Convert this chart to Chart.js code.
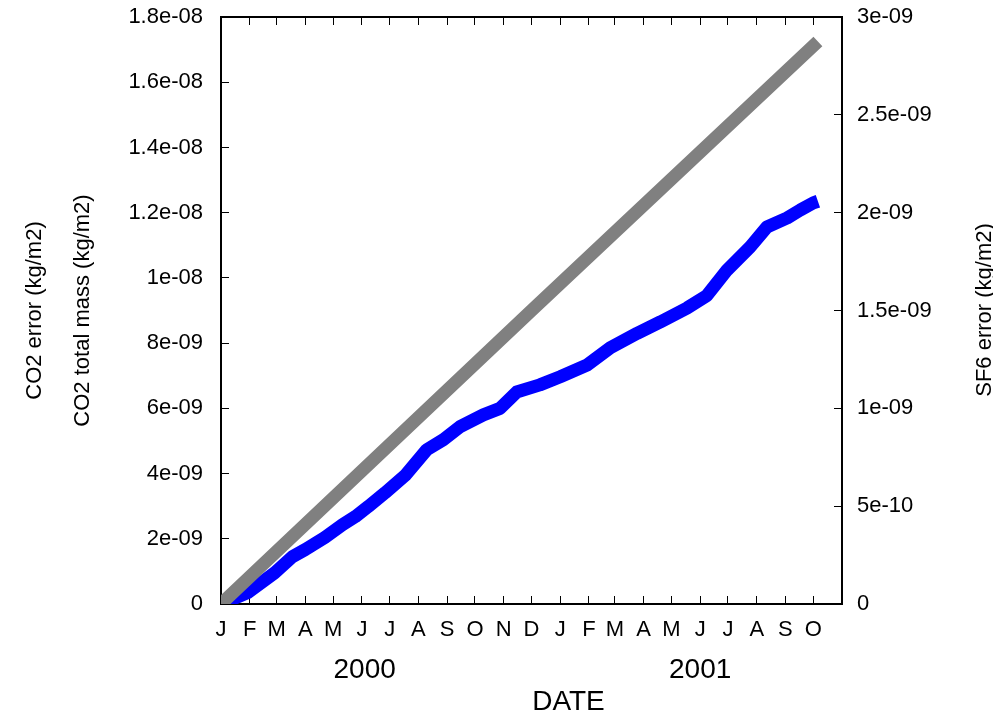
<!DOCTYPE html>
<html>
<head>
<meta charset="utf-8">
<script src="https://cdn.jsdelivr.net/npm/chart.js@4"></script>
<style>
  body { margin: 0; background: #fff; }
</style>
</head>
<body>
<canvas id="chart" width="993" height="716"></canvas>
<script>
// x values are days since 1 Jan 2000
const monthDays = [0, 31, 60, 91, 121, 152, 182, 213, 244, 274, 305, 335,
                   366, 397, 425, 456, 486, 517, 547, 578, 609, 639];
const monthLabels = ["J", "F", "M", "A", "M", "J", "J", "A", "S", "O", "N", "D",
                     "J", "F", "M", "A", "M", "J", "J", "A", "S", "O"];
const yearDays = [155, 517];
const yearLabels = ["2000", "2001"];

const leftTicks = [0, 2e-9, 4e-9, 6e-9, 8e-9, 1e-8, 1.2e-8, 1.4e-8, 1.6e-8, 1.8e-8];
const leftTickLabels = ["0", "2e-09", "4e-09", "6e-09", "8e-09", "1e-08", "1.2e-08", "1.4e-08", "1.6e-08", "1.8e-08"];
const rightTicks = [0, 5e-10, 1e-9, 1.5e-9, 2e-9, 2.5e-9, 3e-9];
const rightTickLabels = ["0", "5e-10", "1e-09", "1.5e-09", "2e-09", "2.5e-09", "3e-09"];

// CO2 total mass (grey)
const massDays = [0, 335, 644];
const massValues = [0, 9.0e-9, 1.725e-8];

// CO2 error (blue)
const errDays = [0, 29, 58, 77, 91, 112, 131, 145, 159, 177, 199, 222, 240, 258, 283, 301,
                 319, 344, 366, 395, 420, 449, 474, 503, 524, 546, 571, 589, 611, 625, 639, 644];
const errValues = [0, 0.35e-9, 0.96e-9, 1.45e-9, 1.67e-9, 2.04e-9, 2.43e-9, 2.68e-9, 2.99e-9,
                   3.41e-9, 3.95e-9, 4.73e-9, 5.04e-9, 5.44e-9, 5.8e-9, 6.0e-9, 6.5e-9, 6.72e-9,
                   6.97e-9, 7.33e-9, 7.86e-9, 8.3e-9, 8.65e-9, 9.08e-9, 9.45e-9, 10.24e-9,
                   10.95e-9, 11.56e-9, 11.84e-9, 12.08e-9, 12.3e-9, 12.35e-9];

const FONT = "'Liberation Sans', Arial, sans-serif";

function pts(xs, ys) {
  return xs.map((x, i) => ({ x: x, y: ys[i] }));
}

function setTicks(values) {
  return (scale) => { scale.ticks = values.map(v => ({ value: v })); };
}

// fixed box sizes so the plot area lands where the reference has it
function fixSize(w, h) {
  return (s) => {
    if (w !== null) s.width = w;
    if (h !== null) s.height = h;
    s.paddingTop = 0; s.paddingBottom = 0;
    s.paddingLeft = 0; s.paddingRight = 0;
  };
}

const rightTitle = {
  id: "rightTitle",
  afterDraw(chart) {
    const ctx = chart.ctx;
    ctx.save();
    ctx.translate(985, 310);
    ctx.rotate(-Math.PI / 2);
    ctx.font = "22px " + FONT;
    ctx.fillStyle = "#000";
    ctx.textAlign = "center";
    ctx.textBaseline = "middle";
    ctx.fillText("SF6 error (kg/m2)", 0, 0);
    ctx.restore();
  }
};

// the DATE label sits a little right of the plot centre in the reference
const shiftDate = {
  id: "shiftDate",
  afterLayout(chart) {
    const s = chart.scales.xYear;
    s.left += 37;
    s.right += 37;
  }
};

const tickFont = { family: FONT, size: 22 };
const inwardGrid = { drawOnChartArea: false, drawTicks: true, tickLength: -8, tickColor: "#000", tickWidth: 1 };
const axisBorder = { display: true, color: "#000", width: 2 };

new Chart(document.getElementById("chart"), {
  type: "line",
  data: {
    datasets: [
      {
        label: "CO2 total mass",
        data: pts(massDays, massValues),
        borderColor: "#808080",
        borderWidth: 13,
        borderCapStyle: "butt",
        pointRadius: 0,
        tension: 0,
        xAxisID: "x",
        yAxisID: "y"
      },
      {
        label: "CO2 error",
        data: pts(errDays, errValues),
        borderColor: "#0000ff",
        borderWidth: 13,
        borderJoinStyle: "round",
        borderCapStyle: "butt",
        pointRadius: 0,
        tension: 0,
        xAxisID: "x",
        yAxisID: "y"
      }
    ]
  },
  options: {
    responsive: false,
    animation: false,
    layout: { padding: { top: 17, left: 0, right: 0, bottom: 0 } },
    plugins: { legend: { display: false }, tooltip: { enabled: false } },
    scales: {
      x: {
        type: "linear", position: "bottom", min: 0, max: 670, weight: 0,
        afterBuildTicks: setTicks(monthDays),
        afterFit: fixSize(null, 44),
        grid: inwardGrid,
        border: axisBorder,
        ticks: {
          autoSkip: false, maxRotation: 0, padding: 21, color: "#000", font: tickFont,
          callback: (v, i) => monthLabels[i]
        }
      },
      xYear: {
        type: "linear", position: "bottom", min: 0, max: 670, weight: 1,
        afterBuildTicks: setTicks(yearDays),
        afterFit: fixSize(null, 68),
        grid: { display: false },
        border: { display: false },
        ticks: {
          autoSkip: false, maxRotation: 0, padding: -3, color: "#000",
          font: { family: FONT, size: 28 },
          callback: (v, i) => yearLabels[i]
        },
        title: {
          display: true, text: "DATE", color: "#000",
          font: { family: FONT, size: 28 }, padding: { top: 0, bottom: -3 }
        }
      },
      xTop: {
        type: "linear", position: "top", min: 0, max: 670,
        afterBuildTicks: setTicks(monthDays),
        afterFit: fixSize(null, 0),
        grid: inwardGrid,
        border: axisBorder,
        ticks: { display: false }
      },
      y: {
        type: "linear", position: "left", min: 0, max: 1.8e-8,
        afterBuildTicks: setTicks(leftTicks),
        afterFit: fixSize(221, null),
        grid: inwardGrid,
        border: axisBorder,
        ticks: {
          padding: 26, color: "#000", font: tickFont,
          callback: (v, i) => leftTickLabels[i]
        },
        title: {
          display: true,
          text: ["CO2 error (kg/m2)", "CO2 total mass (kg/m2)"],
          color: "#000",
          font: { family: FONT, size: 22, lineHeight: "48px" },
          padding: { top: 11, bottom: 0 }
        }
      },
      yR: {
        type: "linear", position: "right", min: 0, max: 3e-9,
        afterBuildTicks: setTicks(rightTicks),
        afterFit: fixSize(151, null),
        grid: inwardGrid,
        border: axisBorder,
        ticks: {
          padding: 23, color: "#000", font: tickFont,
          callback: (v, i) => rightTickLabels[i]
        }
      }
    }
  },
  plugins: [rightTitle, shiftDate]
});
</script>
</body>
</html>
